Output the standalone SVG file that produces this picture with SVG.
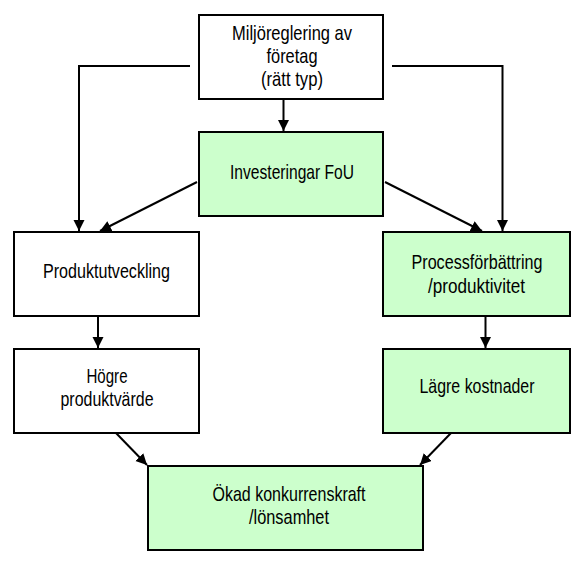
<svg xmlns="http://www.w3.org/2000/svg" width="576" height="565" viewBox="0 0 576 565">
<style>
.box{stroke:#000;stroke-width:2}
.w{fill:#fff}
.g{fill:#ccffcc}
text{font-family:"Liberation Sans",Arial,sans-serif;font-size:21px;fill:#000;text-anchor:middle}
.c{fill:none;stroke:#000;stroke-width:2}
</style>
<defs>
<marker id="ah" markerUnits="userSpaceOnUse" markerWidth="12" markerHeight="12" refX="11" refY="5.5" orient="auto">
<path d="M0,0 L11,5.5 L0,11 z" fill="#000"/>
</marker>
</defs>
<rect width="576" height="565" fill="#fff"/>
<g id="connectors">
<path class="c" d="M190,66 H79 V231" marker-end="url(#ah)"/>
<path class="c" d="M392,66 H502.5 V231" marker-end="url(#ah)"/>
<path class="c" d="M283.5,99 V131" marker-end="url(#ah)"/>
<path class="c" d="M197,182 L100,231" marker-end="url(#ah)"/>
<path class="c" d="M385,182 L482,231" marker-end="url(#ah)"/>
<path class="c" d="M98,316 V348" marker-end="url(#ah)"/>
<path class="c" d="M485.5,316 V348" marker-end="url(#ah)"/>
<path class="c" d="M116,433 L147,465" marker-end="url(#ah)"/>
<path class="c" d="M451,433 L420,465" marker-end="url(#ah)"/>
</g>
<g id="n-miljo">
<rect class="box w" x="199" y="15" width="184" height="84"/>
<text transform="translate(292,40) scale(0.75,1)" textLength="160" lengthAdjust="spacingAndGlyphs">Miljöreglering av</text>
<text transform="translate(292,63) scale(0.75,1)" textLength="68" lengthAdjust="spacingAndGlyphs">företag</text>
<text transform="translate(292,86) scale(0.75,1)" textLength="82.7" lengthAdjust="spacingAndGlyphs">(rätt typ)</text>
</g>
<g id="n-fou">
<rect class="box g" x="199" y="132" width="184" height="84"/>
<text transform="translate(292,179) scale(0.75,1)" textLength="165.3" lengthAdjust="spacingAndGlyphs">Investeringar FoU</text>
</g>
<g id="n-produkt">
<rect class="box w" x="14" y="232" width="185" height="84"/>
<text transform="translate(106.5,278) scale(0.75,1)" textLength="169.3" lengthAdjust="spacingAndGlyphs">Produktutveckling</text>
</g>
<g id="n-process">
<rect class="box g" x="383" y="232" width="187" height="84"/>
<text transform="translate(477,269) scale(0.75,1)" textLength="174.7" lengthAdjust="spacingAndGlyphs">Processförbättring</text>
<text transform="translate(476.5,293) scale(0.75,1)" textLength="129.3" lengthAdjust="spacingAndGlyphs">/produktivitet</text>
</g>
<g id="n-hogre">
<rect class="box w" x="14" y="349" width="185" height="84"/>
<text transform="translate(107,383) scale(0.75,1)" textLength="54.7" lengthAdjust="spacingAndGlyphs">Högre</text>
<text transform="translate(107,406) scale(0.75,1)" textLength="124" lengthAdjust="spacingAndGlyphs">produktvärde</text>
</g>
<g id="n-lagre">
<rect class="box g" x="383" y="349" width="187" height="84"/>
<text transform="translate(477,393) scale(0.75,1)" textLength="153.3" lengthAdjust="spacingAndGlyphs">Lägre kostnader</text>
</g>
<g id="n-okad">
<rect class="box g" x="148" y="466" width="275" height="84"/>
<text transform="translate(289,501) scale(0.75,1)" textLength="204" lengthAdjust="spacingAndGlyphs">Ökad konkurrenskraft</text>
<text transform="translate(289,524) scale(0.75,1)" textLength="106.7" lengthAdjust="spacingAndGlyphs">/lönsamhet</text>
</g>
</svg>
